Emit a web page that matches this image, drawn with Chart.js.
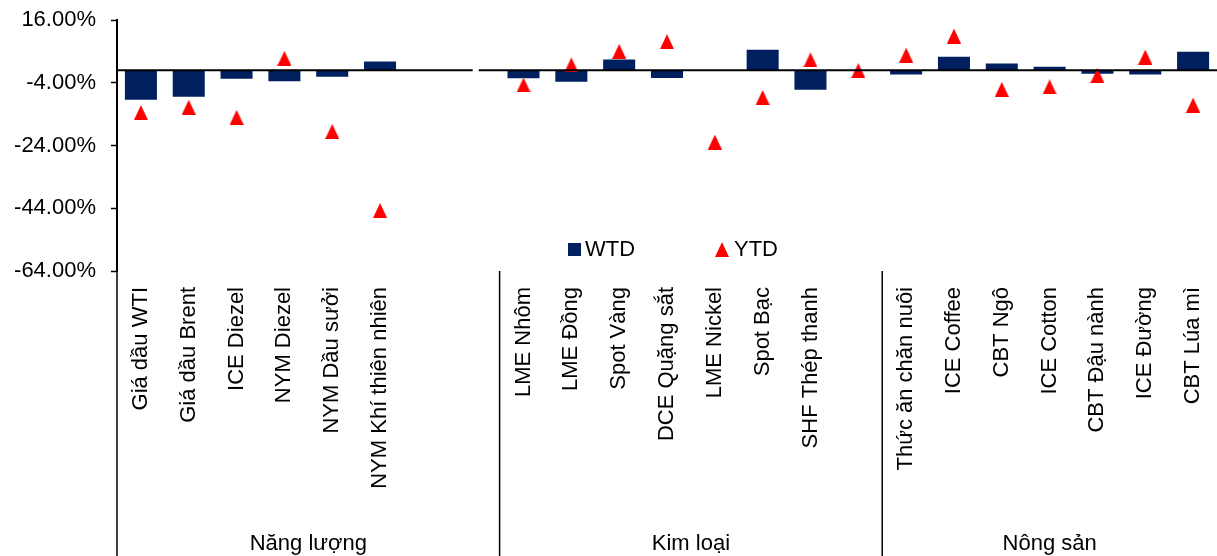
<!DOCTYPE html>
<html lang="vi">
<head>
<meta charset="utf-8">
<title>WTD / YTD</title>
<script src="https://cdn.jsdelivr.net/npm/chart.js@4.4.0/dist/chart.umd.min.js"></script>
<style>
  html, body { margin: 0; padding: 0; background: #fff; }
  #wrap { position: relative; width: 1217px; height: 556px; overflow: hidden; }
  #legend { position: absolute; top: 236px; left: 568px; font: 22px "Liberation Sans", Arial, sans-serif; color: #000; }
  .legend-item { position: absolute; top: 0; display: flex; align-items: center; white-space: nowrap; }
  .legend-square { width: 13px; height: 13px; background: #002060; margin-right: 4px; }
  .legend-triangle { width: 0; height: 0; border-left: 7px solid transparent; border-right: 7px solid transparent; border-bottom: 15px solid #ff0000; margin-right: 5px; }
</style>
</head>
<body>
<div id="wrap">
  <canvas id="chart" width="1217" height="556"></canvas>
  <div id="legend"></div>
</div>
<script>
// Data (percent)
const categories = [
  'Giá dầu WTI', 'Giá dầu Brent', 'ICE Diezel', 'NYM Diezel', 'NYM Dầu sưởi', 'NYM Khí thiên nhiên', '', '',
  'LME Nhôm', 'LME Đồng', 'Spot Vàng', 'DCE Quặng sắt', 'LME Nickel', 'Spot Bạc', 'SHF Thép thanh', '',
  'Thức ăn chăn nuôi', 'ICE Coffee', 'CBT Ngô', 'ICE Cotton', 'CBT Đậu nành', 'ICE Đường', 'CBT Lúa mì'
];
const wtdValues = [-9.4, -8.5, -2.7, -3.5, -2.1, 2.8, null, null, -2.6, -3.7, 3.4, -2.5, 0, 6.5, -6.2, null, -1.4, 4.3, 2.1, 1.1, -1.1, -1.4, 5.9];
const ytdValues = [-13.5, -11.8, -15.0, 3.8, -19.5, -44.7, null, null, -4.7, 1.7, 6.0, 9.1, -22.9, -8.7, 3.3, -0.1, 4.8, 10.9, -6.1, -5.3, -1.7, 4.2, -11.1];
const yTicks = [16, -4, -24, -44, -64];
const groupNames = ['Năng lượng', 'Kim loại', 'Nông sản'];
const groupStarts = [0, 8, 16]; // first category index of each group
const axisBreakAt = 7;          // category where the zero line is broken

const FONT = '"Liberation Sans", Arial, sans-serif';
const NAVY = '#002060';
const RED = '#ff0000';

function makeTriangle(w, h, color) {
  const c = document.createElement('canvas');
  c.width = w;
  c.height = h;
  const g = c.getContext('2d');
  g.fillStyle = color;
  g.beginPath();
  g.moveTo(w / 2, 0);
  g.lineTo(w, h);
  g.lineTo(0, h);
  g.closePath();
  g.fill();
  return c;
}

// Zero line, group dividers and group names
const groupPlugin = {
  id: 'groups',
  afterDatasetsDraw(chart) {
    const { ctx, chartArea, scales } = chart;
    const x = scales.x;
    const y = scales.y;
    const half = (x.getPixelForValue(1) - x.getPixelForValue(0)) / 2;
    const y0 = y.getPixelForValue(0);
    const gap = x.getPixelForValue(axisBreakAt);

    ctx.save();
    ctx.strokeStyle = '#000';
    ctx.lineWidth = 2;
    ctx.beginPath();
    ctx.moveTo(chartArea.left, y0);
    ctx.lineTo(gap - 3, y0);
    ctx.moveTo(gap + 3, y0);
    ctx.lineTo(chartArea.right, y0);
    ctx.stroke();

    ctx.lineWidth = 1.5;
    ctx.fillStyle = '#000';
    ctx.font = '22px ' + FONT;
    ctx.textAlign = 'center';
    ctx.textBaseline = 'alphabetic';
    groupStarts.forEach((start, i) => {
      const left = x.getPixelForValue(start) - half;
      const end = i + 1 < groupStarts.length ? groupStarts[i + 1] : categories.length;
      const right = x.getPixelForValue(end - 1) + half;
      ctx.beginPath();
      ctx.moveTo(left, chartArea.bottom);
      ctx.lineTo(left, chart.height);
      ctx.stroke();
      ctx.fillText(groupNames[i], (left + right) / 2, chart.height - 6);
    });
    ctx.restore();
  }
};

function buildLegend() {
  const legend = document.getElementById('legend');
  legend.innerHTML =
    '<div class="legend-item" style="left:0"><span class="legend-square"></span>WTD</div>' +
    '<div class="legend-item" style="left:147px"><span class="legend-triangle"></span>YTD</div>';
}

document.addEventListener('DOMContentLoaded', () => {
  const ctx = document.getElementById('chart').getContext('2d');
  const triangle = makeTriangle(14, 15, RED);

  new Chart(ctx, {
    type: 'bar',
    data: {
      labels: categories,
      datasets: [
        {
          type: 'line',
          label: 'YTD',
          data: ytdValues,
          showLine: false,
          pointStyle: triangle,
          pointRadius: 8,
          pointHoverRadius: 8,
          order: 0
        },
        {
          type: 'bar',
          label: 'WTD',
          data: wtdValues,
          backgroundColor: NAVY,
          barPercentage: 0.67,
          categoryPercentage: 1,
          order: 1
        }
      ]
    },
    options: {
      responsive: false,
      animation: false,
      layout: { autoPadding: false, padding: { top: 20, right: 0, bottom: 0, left: 0 } },
      plugins: {
        legend: { display: false },
        tooltip: { enabled: false }
      },
      scales: {
        x: {
          // grid hidden; tickLength only spaces the labels off the plot
          grid: { display: false, drawTicks: true, tickLength: 16 },
          border: { display: false },
          ticks: {
            autoSkip: false,
            maxRotation: 90,
            minRotation: 90,
            padding: 0,
            color: '#000',
            font: { family: FONT, size: 22 }
          },
          afterFit(scale) {
            scale.height = 285;
            scale.paddingLeft = 0;
            scale.paddingRight = 0;
          }
        },
        y: {
          min: -64,
          max: 16,
          afterBuildTicks(scale) { scale.ticks = yTicks.map(v => ({ value: v })); },
          afterFit(scale) {
            scale.width = 117;
            scale.paddingTop = 0;
            scale.paddingBottom = 0;
          },
          grid: { drawOnChartArea: false, tickLength: 6, tickColor: '#000', tickWidth: 1.5 },
          border: { display: true, color: '#000', width: 2 },
          ticks: {
            padding: 15,
            color: '#000',
            font: { family: FONT, size: 22 },
            callback: v => v.toFixed(2) + '%'
          }
        }
      }
    },
    plugins: [groupPlugin]
  });

  buildLegend();
});
</script>
</body>
</html>
